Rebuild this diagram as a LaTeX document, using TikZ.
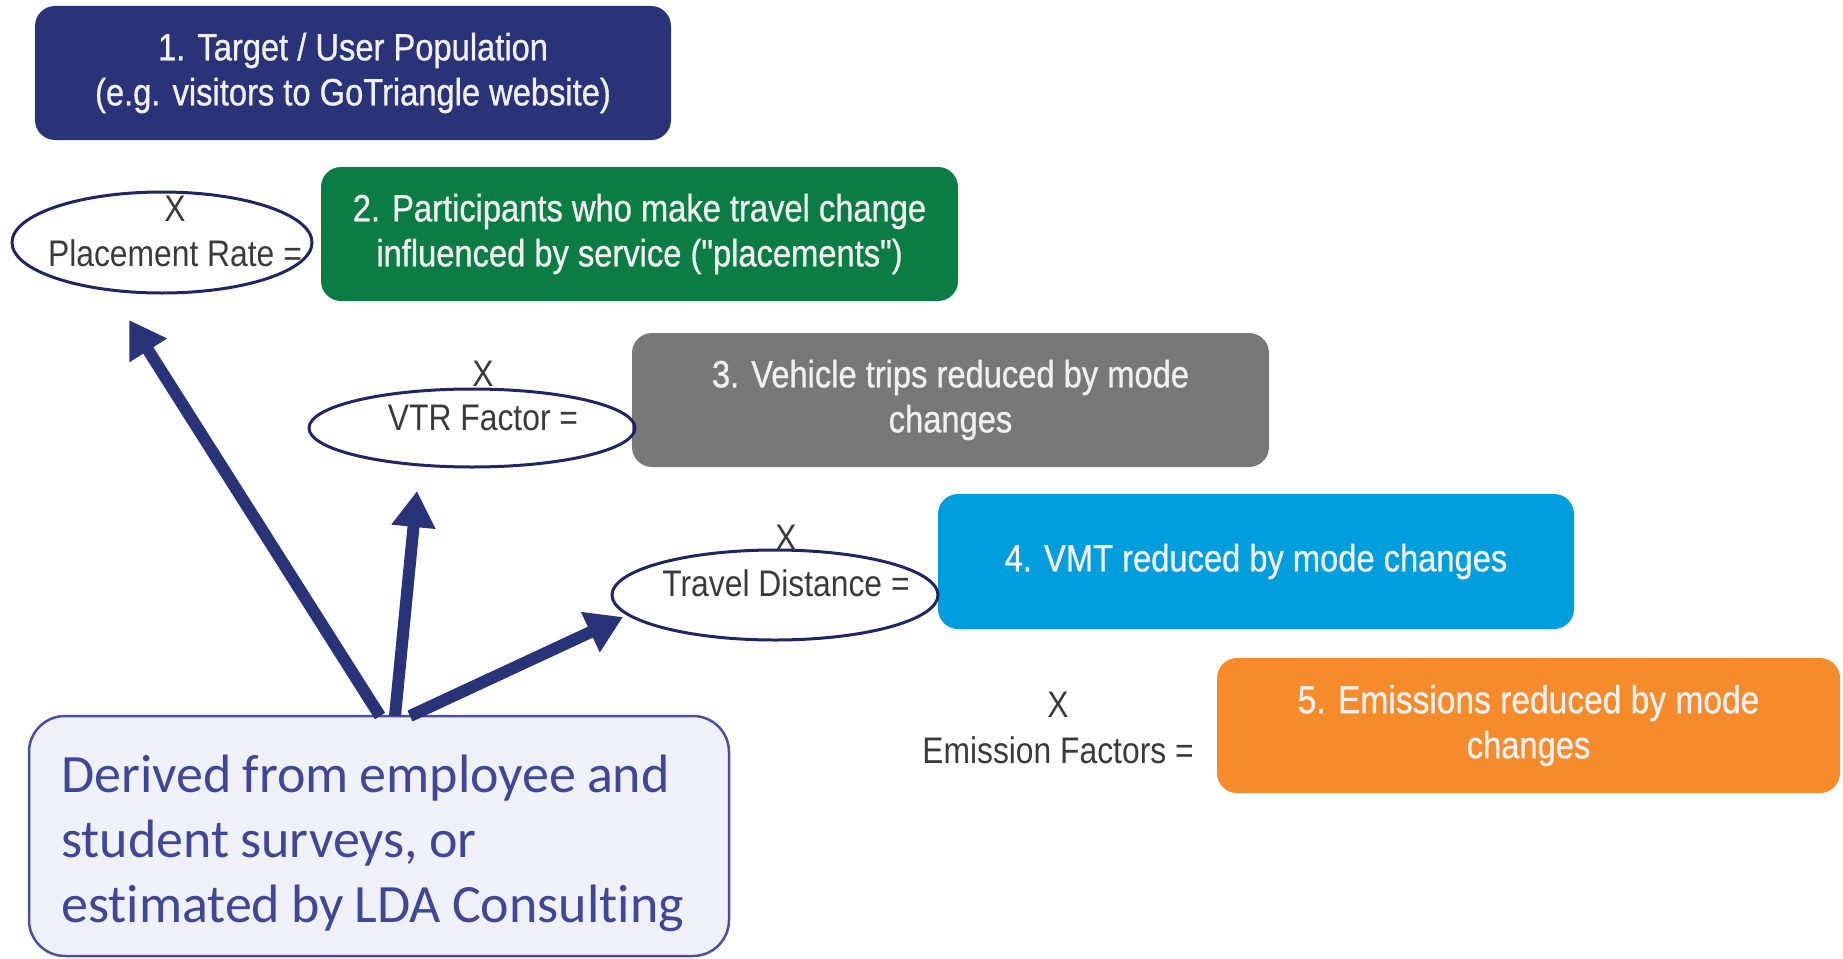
\documentclass[tikz,border=0pt]{standalone}
\usepackage{fontspec}
\setmainfont{Liberation Sans}
\newfontfamily\cond[FakeStretch=0.86,FakeBold=0.8]{Liberation Sans}
\newfontfamily\condl[FakeStretch=0.86]{Liberation Sans}
\newfontfamily\calib[WordSpace=0.9,Ligatures=NoCommon]{Carlito}
\usetikzlibrary{arrows.meta,shapes.geometric}
\definecolor{navyA}{HTML}{2A3278}
\definecolor{greenA}{HTML}{0C7C45}
\definecolor{grayA}{HTML}{787878}
\definecolor{blueA}{HTML}{019EDE}
\definecolor{orangeA}{HTML}{F58B2A}
\definecolor{ringA}{HTML}{1F2660}
\definecolor{labelA}{HTML}{3A3A3A}
\definecolor{noteFill}{HTML}{EFF0F8}
\definecolor{noteLine}{HTML}{4B4F9E}
\definecolor{noteText}{HTML}{3F4796}
\definecolor{arrowA}{HTML}{283378}
\tikzset{
  stagebox/.style={rounded corners=20pt, inner sep=0pt, text=white!94!black,
    font=\cond\fontsize{38}{45}\selectfont, align=center},
  ring/.style={ellipse, draw=ringA, line width=3pt, inner sep=0pt},
  mult/.style={text=labelA, font=\condl\fontsize{37}{40}\selectfont, inner sep=0pt},
  notebox/.style={rounded corners=36pt, draw=noteLine, line width=2.5pt, fill=noteFill,
    inner sep=0pt},
  notetext/.style={inner sep=0pt, text=noteText, font=\calib\fontsize{54}{65}\selectfont, align=left},
  bigarrow/.style={draw=arrowA, line width=12pt, -{Triangle[length=36pt,width=42pt]}},
}
\begin{document}
\begin{tikzpicture}[x=1pt,y=-1pt]
\useasboundingbox (0,0) rectangle (1843,958);
% stage boxes
\node[stagebox, fill=navyA, minimum width=636pt, minimum height=134pt] (s1) at (353,73)
  {1. Target / User Population\\(e.g. visitors to GoTriangle website)};
\node[stagebox, fill=greenA, minimum width=637pt, minimum height=134pt] (s2) at (639.5,234)
  {2. Participants who make travel change\\influenced by service ("placements")};
\node[stagebox, fill=grayA, minimum width=637pt, minimum height=134pt] (s3) at (950.5,400)
  {3. Vehicle trips reduced by mode\\changes};
\node[stagebox, fill=blueA, minimum width=636pt, minimum height=135pt] (s4) at (1256,561.5)
  {4. VMT reduced by mode changes};
\node[stagebox, fill=orangeA, minimum width=623pt, minimum height=135pt] (s5) at (1528.5,725.5)
  {\fontsize{39}{45}\selectfont 5. Emissions reduced by mode\\changes};
% ellipses
\node[ring, minimum width=300pt, minimum height=101pt] (e1) at (162,242.5) {};
\node[ring, minimum width=326pt, minimum height=78pt] (e2) at (472,428) {};
\node[ring, minimum width=326pt, minimum height=90pt] (e3) at (775,595) {};
% multiplier labels
\node[mult] (x1) at (175,209) {X};
\node[mult] (l1) at (175,253) {Placement Rate =};
\node[mult] (x2) at (483,374) {X};
\node[mult] (l2) at (483,418) {VTR Factor =};
\node[mult] (x3) at (786,538) {X};
\node[mult] (l3) at (786,583) {Travel Distance =};
\node[mult] (x4) at (1058,705) {X};
\node[mult] (l4) at (1058,750) {Emission Factors =};
% note box
\node[notebox, minimum width=700pt, minimum height=240pt] (note) at (379,836) {};
\node[notetext, anchor=west] (notetxt) at (61,843)
  {Derived from employee and\\student surveys, or\\estimated by LDA Consulting};
% arrows
\coordinate (o1) at (380,716);
\coordinate (o2) at (395,716);
\coordinate (o3) at (410,716);
\coordinate (t1) at (129,320);
\coordinate (t2) at (417,491);
\coordinate (t3) at (623,617);
\draw[bigarrow] (o1) -- (t1);
\draw[bigarrow] (o2) -- (t2);
\draw[bigarrow] (o3) -- (t3);
\end{tikzpicture}
\end{document}
